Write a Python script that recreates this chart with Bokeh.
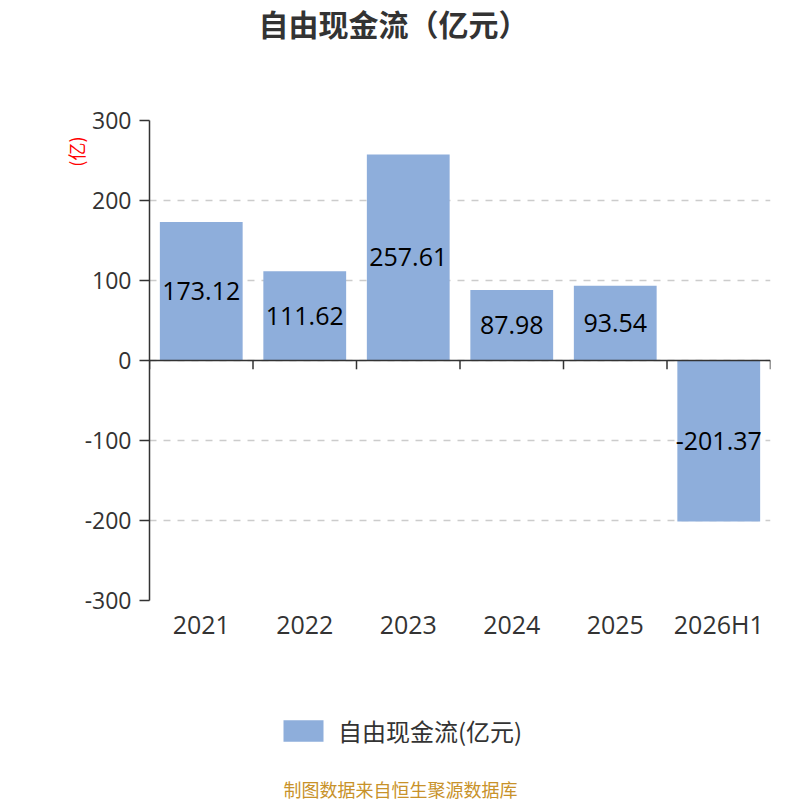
import numpy as np
from bokeh.plotting import figure
from bokeh.layouts import column
from bokeh.models import (ColumnDataSource, Range1d, FixedTicker, Label, Legend, LegendItem, Span, Title)
from bokeh.core.properties import value
from bokeh.embed import file_html
from bokeh.resources import INLINE

categories = ["2021", "2022", "2023", "2024", "2025", "2026H1"]
values = [173.12, 111.62, 257.61, 87.98, 93.54, -201.37]
y_ticks = [-300, -200, -100, 0, 100, 200, 300]
series_name = "自由现金流(亿元)"
title_text = "自由现金流（亿元）"
source_text = "制图数据来自恒生聚源数据库"

CJK = "Noto Sans CJK SC"
NUM = "Open Sans"
BAR = "#8eaedb"
FRAME_LEFT = 149  # frames of the stacked figures are aligned at this x


def strip(height):
    f = figure(width=800, height=height, output_backend="svg", toolbar_location=None,
               x_range=Range1d(0, 1), y_range=Range1d(0, 1),
               min_border=0, outline_line_color=None,
               background_fill_color="white", border_fill_color="white")
    f.axis.visible = False
    f.grid.visible = False
    f.title.visible = False
    return f


# top strip: chart title
p0 = strip(45)
p0.add_layout(Label(x=393 - FRAME_LEFT, y=23, x_units="screen", y_units="screen", text=title_text,
                    text_font=CJK, text_font_size="30px", text_font_style="bold",
                    text_color="#333333", text_align="center", text_baseline="middle"))

n = len(categories)
xc = np.arange(n) + 0.5
src = ColumnDataSource(dict(
    x=xc, top=values, mid=[v / 2 for v in values],
    lab=[f"{v:.2f}" for v in values],
))

p = figure(frame_width=621, frame_height=480, output_backend="svg", toolbar_location=None,
           x_range=Range1d(0, n), y_range=Range1d(-300, 300),
           min_border_left=FRAME_LEFT, min_border_right=30, min_border_top=75,
           min_border_bottom=60)
p.outline_line_color = None
p.background_fill_color = "white"
p.title.visible = False

r = p.vbar(x="x", top="top", bottom=0, width=0.8, source=src,
           fill_color=BAR, line_color=None)
p.text(x="x", y="mid", text="lab", source=src, text_align="center",
       text_baseline="middle", text_font=value(NUM), text_font_size="25px",
       text_color="black")

# zero line with ticks at category boundaries
p.add_layout(Span(location=0, dimension="width", line_color="#333333", line_width=1.5))
bx = np.arange(n + 1)
p.segment(x0=bx, x1=bx, y0=[0] * (n + 1), y1=[-11] * (n + 1),
          line_color="#333333", line_width=1.5)

p.xaxis.ticker = FixedTicker(ticks=list(xc))
p.xaxis.major_label_overrides = {float(x): c for x, c in zip(xc, categories)}
p.xaxis.axis_line_color = None
p.xaxis.major_tick_line_color = None
p.xaxis.minor_tick_line_color = None
p.xaxis.major_label_text_font = NUM
p.xaxis.major_label_text_font_size = "25px"
p.xaxis.major_label_text_color = "#333333"
p.xaxis.major_label_standoff = 0

p.yaxis.ticker = FixedTicker(ticks=y_ticks)
p.yaxis.major_label_overrides = {float(t): str(t) for t in y_ticks}
p.yaxis.axis_line_color = "#333333"
p.yaxis.axis_line_width = 1.5
p.yaxis.major_tick_line_color = "#333333"
p.yaxis.major_tick_line_width = 1.5
p.yaxis.major_tick_in = 0
p.yaxis.major_tick_out = 10
p.yaxis.minor_tick_line_color = None
p.yaxis.major_label_text_font = NUM
p.yaxis.major_label_text_font_size = "23px"
p.yaxis.major_label_text_color = "#333333"
p.yaxis.major_label_standoff = 8

p.add_layout(Title(text="(亿)", align="right", text_color="red", text_font=CJK,
                   text_font_size="18px", text_font_style="normal", offset=16,
                   standoff=-14), "left")

p.xgrid.grid_line_color = None
p.ygrid.grid_line_color = "#cccccc"
p.ygrid.grid_line_dash = "7 7"
p.ygrid.grid_line_width = 1.5

# bottom strip: legend and source note
p2 = strip(140)
# zero-height key renderer: only its legend swatch is visible
dummy = p2.vbar(x=[0.5], top=[0], bottom=[0], width=0.1, fill_color=BAR, line_color=None)
leg = Legend(items=[LegendItem(label=series_name, renderers=[dummy])],
             location=(278 - FRAME_LEFT, 52), orientation="horizontal",
             label_text_font=CJK, label_text_font_size="24px", label_text_color="#333333",
             glyph_width=50, glyph_height=27, border_line_color=None,
             background_fill_alpha=0, margin=0, padding=0, label_standoff=10)
p2.add_layout(leg, "center")
p2.add_layout(Label(x=400 - FRAME_LEFT, y=12, x_units="screen", y_units="screen", text=source_text,
                    text_font=CJK, text_font_size="18px",
                    text_color="#c8922a", text_align="center", text_baseline="middle"))

open("out.html", "w").write(file_html(column(p0, p, p2, spacing=0), INLINE))
